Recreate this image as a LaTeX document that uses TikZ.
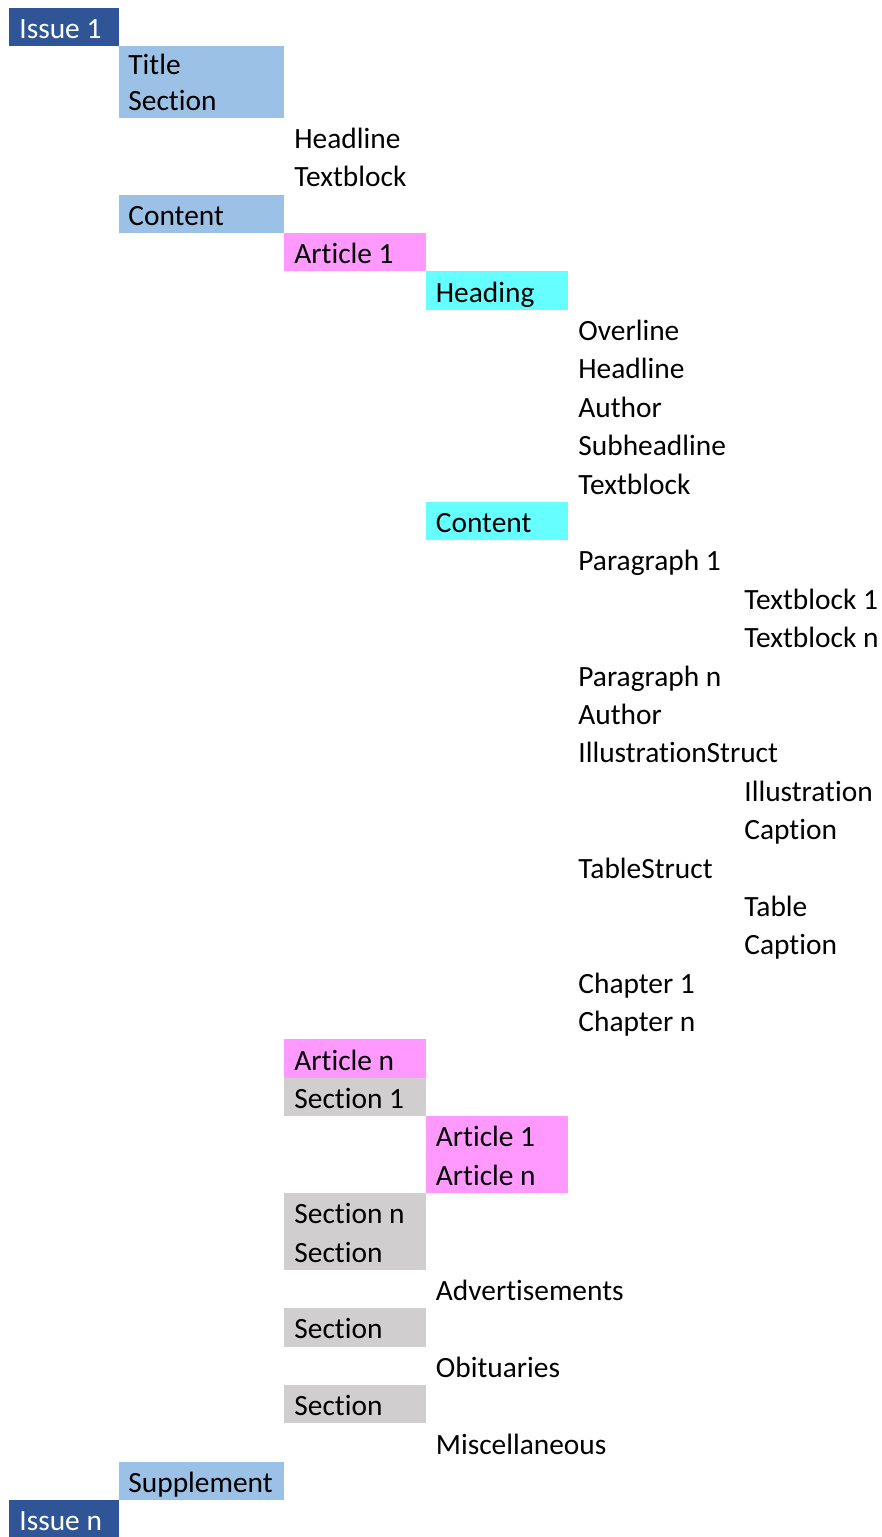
\documentclass[tikz,border=0pt]{standalone}
\usepackage{fontspec}
\setmainfont{Carlito}[Ligatures={NoCommon}]
\definecolor{dblue}{HTML}{2F5597}
\definecolor{lblue}{HTML}{9BC2E6}
\definecolor{pinkc}{HTML}{FF99FF}
\definecolor{cyanc}{HTML}{66FFFF}
\definecolor{grayc}{HTML}{D0CECE}
\begin{document}
\begin{tikzpicture}[x=0.5pt,y=-0.5pt,
  lbl/.style={anchor=base west, inner sep=0pt, font=\fontsize{14.7}{17}\selectfont}]
\useasboundingbox (0,0) rectangle (882,1537);
% fills
\fill[dblue] (9,7.5) rectangle (119,46);
\fill[lblue] (118.5,46) rectangle (284,117.7);
\fill[lblue] (118.5,194.5) rectangle (284,232.9);
\fill[pinkc] (284,232.9) rectangle (426,271.3);
\fill[cyanc] (426,271.3) rectangle (568,309.7);
\fill[cyanc] (426,501.7) rectangle (568,540.1);
\fill[pinkc] (284,1039.3) rectangle (426,1077.7);
\fill[grayc] (284,1077.7) rectangle (426,1116.1);
\fill[pinkc] (426,1116.1) rectangle (568,1192.9);
\fill[grayc] (284,1192.9) rectangle (426,1269.7);
\fill[grayc] (284,1308.1) rectangle (426,1346.5);
\fill[grayc] (284,1384.9) rectangle (426,1423.3);
\fill[lblue] (118.5,1461.7) rectangle (284,1500.1);
\fill[dblue] (9,1500.1) rectangle (119,1538.5);
% texts
\node[lbl, text=white] (t0) at (19,38) {Issue 1};
\node[lbl] (t1) at (128,74) {Title};
\foreach \k/\x/\t/\c in {2/128/Section/black, 3/294/Headline/black, 4/294/Textblock/black,
  5/128/Content/black, 6/294/Article 1/black, 7/435.5/Heading/black, 8/578/Overline/black,
  9/578/Headline/black, 10/578/Author/black, 11/578/Subheadline/black, 12/578/Textblock/black,
  13/435.5/Content/black, 14/578/Paragraph 1/black, 15/744/Textblock 1/black,
  16/744/Textblock n/black, 17/578/Paragraph n/black, 18/578/Author/black,
  19/578/IllustrationStruct/black, 20/744/Illustration/black, 21/744/Caption/black,
  22/578/TableStruct/black, 23/744/Table/black, 24/744/Caption/black, 25/578/Chapter 1/black,
  26/578/Chapter n/black, 27/294/Article n/black, 28/294/Section 1/black,
  29/435.5/Article 1/black, 30/435.5/Article n/black, 31/294/Section n/black,
  32/294/Section/black, 33/435.5/Advertisements/black, 34/294/Section/black,
  35/435.5/Obituaries/black, 36/294/Section/black, 37/435.5/Miscellaneous/black,
  38/128/Supplement/black, 39/19/Issue n/white}{
  \pgfmathsetmacro\yb{110+38.4*(\k-2)}
  \node[lbl, text=\c] (t\k) at (\x,\yb) {\t};
}
\end{tikzpicture}
\end{document}
